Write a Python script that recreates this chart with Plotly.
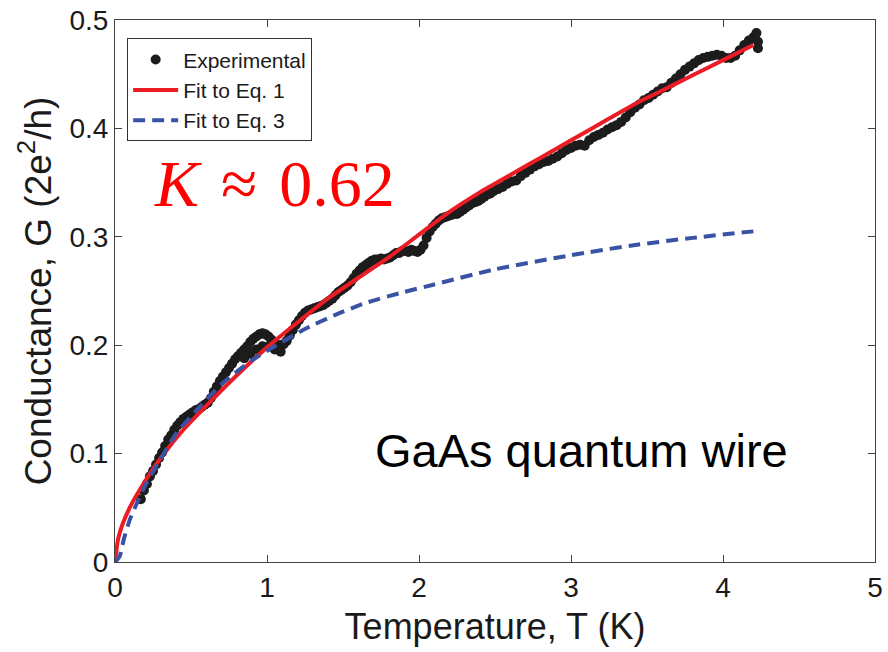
import plotly.graph_objects as go

exp_T = [0.17, 0.19, 0.21, 0.23, 0.25, 0.27, 0.29, 0.31, 0.33, 0.35, 0.37, 0.39, 0.41, 0.43, 0.45, 0.47, 0.49,
         0.51, 0.53, 0.55, 0.57, 0.59, 0.61, 0.63, 0.65, 0.67, 0.69, 0.71, 0.73, 0.75, 0.77, 0.79, 0.81, 0.83,
         0.85, 0.87, 0.89, 0.91, 0.93, 0.95, 0.97, 0.99, 1.01, 1.03, 1.05, 1.07, 1.09, 1.11, 1.13, 1.15, 1.17,
         1.19, 1.21, 1.23, 1.25, 1.27, 1.29, 1.31, 1.33, 1.35, 1.37, 1.39, 1.41, 1.43, 1.45, 1.47, 1.49, 1.51,
         1.53, 1.55, 1.57, 1.59, 1.61, 1.63, 1.65, 1.67, 1.69, 1.71, 1.73, 1.75, 1.77, 1.79, 1.81, 1.83, 1.85,
         1.87, 1.89, 1.91, 1.93, 1.95, 1.97, 1.99, 2.01, 2.03, 2.05, 2.07, 2.09, 2.11, 2.13, 2.15, 2.17, 2.19,
         2.21, 2.23, 2.25, 2.27, 2.29, 2.31, 2.33, 2.35, 2.37, 2.39, 2.41, 2.43, 2.45, 2.47, 2.49, 2.52, 2.55,
         2.58, 2.61, 2.64, 2.67, 2.70, 2.73, 2.76, 2.79, 2.82, 2.85, 2.88, 2.91, 2.94, 2.97, 3.00, 3.03, 3.06,
         3.09, 3.12, 3.15, 3.18, 3.21, 3.24, 3.27, 3.30, 3.33, 3.36, 3.39, 3.42, 3.45, 3.48, 3.51, 3.54, 3.57,
         3.60, 3.63, 3.66, 3.69, 3.72, 3.75, 3.78, 3.81, 3.84, 3.87, 3.90, 3.93, 3.96, 3.99, 4.02, 4.05, 4.08,
         4.11, 4.14, 4.17, 4.20, 4.22, 4.23, 4.23,
         0.85, 0.89, 0.93, 0.97, 1.01, 1.05, 1.09]
exp_G = [0.058, 0.066, 0.072, 0.079, 0.084, 0.090, 0.096, 0.101, 0.107, 0.113, 0.117, 0.122, 0.126, 0.129,
         0.132, 0.134, 0.136, 0.138, 0.140, 0.141, 0.143, 0.145, 0.147, 0.151, 0.157, 0.162, 0.167, 0.171,
         0.175, 0.179, 0.183, 0.187, 0.190, 0.193, 0.196, 0.199, 0.203, 0.206, 0.208, 0.210, 0.211, 0.210,
         0.208, 0.205, 0.202, 0.200, 0.200, 0.201, 0.204, 0.209, 0.214, 0.219, 0.223, 0.227, 0.230, 0.232,
         0.233, 0.234, 0.235, 0.236, 0.237, 0.239, 0.241, 0.243, 0.246, 0.249, 0.251, 0.253, 0.255, 0.258,
         0.262, 0.266, 0.269, 0.272, 0.274, 0.276, 0.278, 0.279, 0.279, 0.280, 0.279, 0.280, 0.281, 0.283,
         0.285, 0.285, 0.287, 0.287, 0.286, 0.288, 0.287, 0.286, 0.288, 0.292, 0.299, 0.305, 0.309, 0.312,
         0.315, 0.317, 0.318, 0.319, 0.320, 0.321, 0.321, 0.323, 0.325, 0.327, 0.329, 0.331, 0.332, 0.333,
         0.335, 0.337, 0.339, 0.340, 0.342, 0.344, 0.346, 0.349, 0.351, 0.352, 0.356, 0.359, 0.362, 0.365,
         0.367, 0.369, 0.370, 0.372, 0.374, 0.377, 0.380, 0.382, 0.384, 0.385, 0.384, 0.389, 0.392, 0.394,
         0.396, 0.399, 0.401, 0.403, 0.406, 0.410, 0.415, 0.419, 0.422, 0.426, 0.428, 0.431, 0.434, 0.437,
         0.438, 0.442, 0.446, 0.450, 0.454, 0.457, 0.460, 0.463, 0.465, 0.466, 0.467, 0.468, 0.467, 0.465,
         0.465, 0.467, 0.472, 0.477, 0.481, 0.484, 0.488, 0.480, 0.474,
         0.188, 0.192, 0.196, 0.199, 0.199, 0.196, 0.194]

# Fit to Eq. 1 (red solid)
fit1_T = [0, 0.02, 0.05, 0.1, 0.16, 0.25, 0.35, 0.45, 0.6, 0.8, 1.0, 1.2, 1.4, 1.6, 1.8, 2.0, 2.2, 2.4,
          2.6, 2.8, 3.0, 3.2, 3.4, 3.6, 3.8, 4.0, 4.2]
fit1_G = [0, 0.021, 0.035, 0.051, 0.066, 0.086, 0.105, 0.122, 0.144, 0.172, 0.198, 0.221, 0.243, 0.262,
          0.281, 0.302, 0.323, 0.341, 0.357, 0.373, 0.389, 0.405, 0.421, 0.435, 0.449, 0.463, 0.477]

# Fit to Eq. 3 (blue dashed)
fit3_T = [0, 0.03, 0.06, 0.1, 0.15, 0.2, 0.3, 0.4, 0.55, 0.7, 0.9, 1.05, 1.25, 1.45, 1.65, 1.9, 2.1,
          2.5, 3.0, 3.4, 3.8, 4.2]
fit3_G = [0, 0.005, 0.022, 0.040, 0.056, 0.071, 0.095, 0.118, 0.142, 0.164, 0.186, 0.199, 0.215, 0.228,
          0.239, 0.249, 0.256, 0.270, 0.283, 0.292, 0.299, 0.305]

x_ticks = [0, 1, 2, 3, 4, 5]
y_ticks = [0, 0.1, 0.2, 0.3, 0.4, 0.5]
y_tick_text = ["0", "0.1", "0.2", "0.3", "0.4", "0.5"]

RED = "#ec1c24"
BLUE = "#3a52a4"
FONT = "Liberation Sans, Arial, sans-serif"

fig = go.Figure()
fig.add_trace(go.Scatter(x=exp_T, y=exp_G, mode="markers", name="Experimental",
                         marker=dict(color="#1c1c1c", size=10, line=dict(width=0))))
fig.add_trace(go.Scatter(x=fit1_T, y=fit1_G, mode="lines", name="Fit to Eq. 1",
                         line=dict(color=RED, width=4, shape="spline", smoothing=0.6)))
fig.add_trace(go.Scatter(x=fit3_T, y=fit3_G, mode="lines", name="Fit to Eq. 3",
                         line=dict(color=BLUE, width=4, dash="12px,7px", shape="spline", smoothing=0.6)))

axis_common = dict(showline=True, linecolor="#444", linewidth=1, mirror="ticks", ticks="inside",
                   ticklen=7, tickcolor="#444", tickwidth=1, showgrid=False, zeroline=False,
                   tickfont=dict(family=FONT, size=28, color="#1a1a1a"))

fig.update_layout(
    width=888, height=652,
    margin=dict(l=115, r=13, t=20, b=90),
    paper_bgcolor="white", plot_bgcolor="white",
    xaxis=dict(range=[0, 5], tickvals=x_ticks, automargin=False,
               title=dict(text="Temperature, T (K)", font=dict(family=FONT, size=36, color="#1a1a1a"),
                          standoff=12),
               **axis_common),
    yaxis=dict(range=[0, 0.5], tickvals=y_ticks, ticktext=y_tick_text, automargin=False,
               title=dict(text="Conductance, G (2e<sup>2</sup>/h)",
                          font=dict(family=FONT, size=37, color="#1a1a1a"), standoff=6),
               **axis_common),
    legend=dict(x=0.016, y=0.966, xanchor="left", yanchor="top", bgcolor="white",
                bordercolor="#333", borderwidth=1, font=dict(family=FONT, size=21, color="#1a1a1a"),
                itemwidth=45, tracegroupgap=0),
    showlegend=True,
    annotations=[
        dict(x=1.05, y=0.349, xref="x", yref="y", showarrow=False,
             text="<i>K</i>\u2004\u2248\u2004" + "0.62",
             font=dict(family="Liberation Serif, Times New Roman, serif", size=66, color="#ff0000")),
        dict(x=3.07, y=0.103, xref="x", yref="y", showarrow=False,
             text="GaAs quantum wire", font=dict(family=FONT, size=47, color="black")),
    ],
)

fig.write_html("out.html")
